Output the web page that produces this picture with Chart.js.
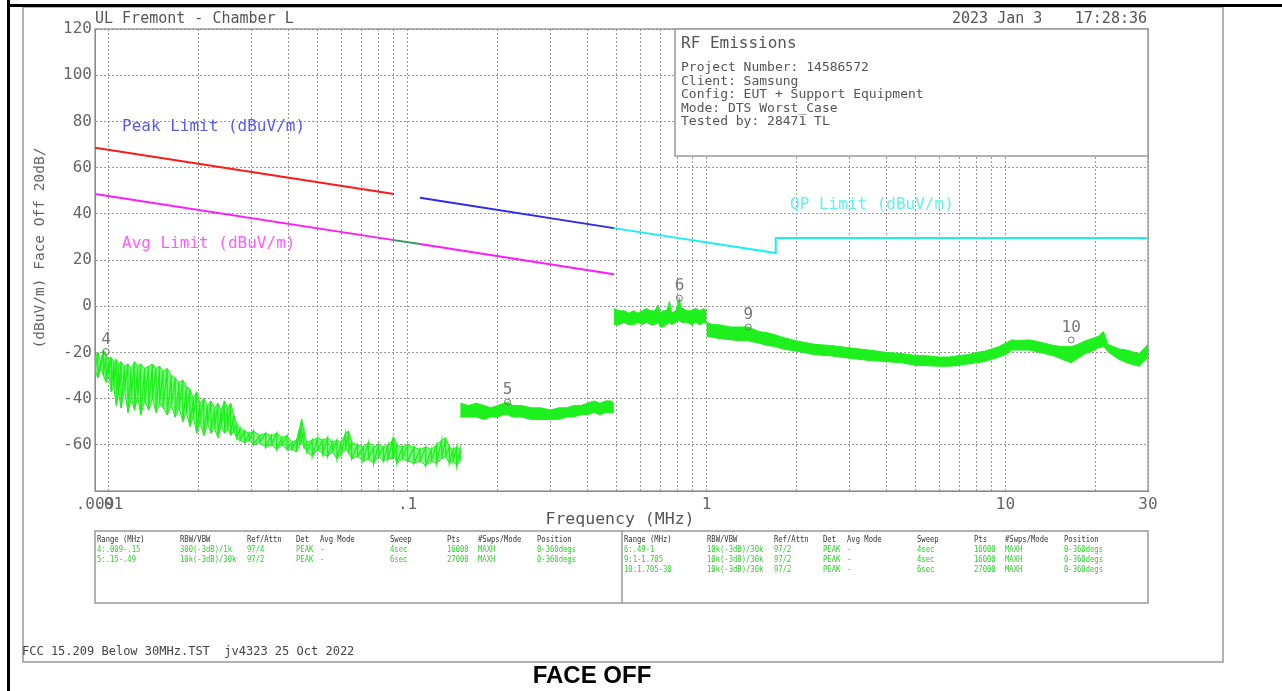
<!DOCTYPE html>
<html>
<head>
<meta charset="utf-8">
<script src="https://cdn.jsdelivr.net/npm/chart.js@4.4.1/dist/chart.umd.min.js"></script>
<style>
html, body { margin: 0; padding: 0; background: #fff; }
</style>
</head>
<body>
<canvas id="emiChart" width="1282" height="691"></canvas>
<script>
// Chart.jsのグローバルオブジェクト
let chart;

// X軸の目盛り (MHz)
const xTickVals = [0.009, 0.01, 0.02, 0.03, 0.04, 0.05, 0.06, 0.07, 0.08, 0.09,
    0.1, 0.2, 0.3, 0.4, 0.5, 0.6, 0.7, 0.8, 0.9,
    1, 2, 3, 4, 5, 6, 7, 8, 9, 10, 20, 30];
const xLabelVals = [0.009, 0.01, 0.1, 1, 10, 30];
const xLabelText = ['.009', '.01', '.1', '1', '10', '30'];

// リミット線 (MHz / dBuV/m)
const peakFreq = [0.009, 0.09];
const peakVal = [68.6, 48.6];
const peak2Freq = [0.11, 0.49];
const peak2Val = [46.9, 33.8];
const avgFreq = [0.009, 0.09];
const avgVal = [48.6, 28.6];
const avgGapFreq = [0.09, 0.11];
const avgGapVal = [28.6, 26.9];
const avg2Freq = [0.11, 0.49];
const avg2Val = [26.9, 13.8];
const qpFreq = [0.49, 1.705, 1.705, 30];
const qpVal = [33.8, 23.0, 29.5, 29.5];

// 測定トレース 4: .009-.15 (上側 / 下側)
const seg1Freq = [0.0090, 0.0092, 0.0094, 0.0096, 0.0098, 0.0100, 0.0102, 0.0104, 0.0106, 0.0108,
    0.0110, 0.0113, 0.0116, 0.0119, 0.0122, 0.0125, 0.0128, 0.0132, 0.0136, 0.0140,
    0.0144, 0.0148, 0.0152, 0.0157, 0.0162, 0.0167, 0.0172, 0.0177, 0.0182, 0.0187,
    0.0192, 0.0197, 0.0202, 0.0208, 0.0214, 0.0220, 0.0226, 0.0232, 0.0238, 0.0244,
    0.0250, 0.0256, 0.0262, 0.0268, 0.0275, 0.0285, 0.0295, 0.0305, 0.0320, 0.0335,
    0.0350, 0.0365, 0.0380, 0.0395, 0.0410, 0.0425, 0.0435, 0.0442, 0.0450, 0.0460,
    0.0480, 0.0500, 0.0520, 0.0540, 0.0560, 0.0580, 0.0600, 0.0620, 0.0635, 0.0650,
    0.0680, 0.0710, 0.0740, 0.0770, 0.0800, 0.0830, 0.0860, 0.0890, 0.0900, 0.0920,
    0.0960, 0.1000, 0.1050, 0.1100, 0.1150, 0.1200, 0.1250, 0.1300, 0.1340, 0.1380,
    0.1420, 0.1460, 0.1500];
const seg1Hi = [-22, -20, -24, -19, -21, -23, -22, -24, -23, -25,
    -24, -26, -25, -27, -24, -26, -25, -27, -26, -25,
    -27, -26, -28, -27, -30, -31, -33, -32, -35, -36,
    -40, -37, -42, -40, -43, -41, -44, -42, -45, -41,
    -44, -42, -47, -51, -53, -54, -55, -54, -56, -55,
    -56, -55, -57, -56, -59, -58, -53, -49, -54, -59,
    -58, -57, -58, -57, -59, -58, -59, -55, -54, -59,
    -60, -61, -59, -61, -60, -61, -60, -58, -57, -60,
    -61, -60, -61, -62, -61, -62, -60, -58, -57, -61,
    -62, -61, -62];
const seg1Lo = [-28, -31, -27, -30, -33, -29, -37, -35, -43, -38,
    -44, -36, -46, -40, -45, -39, -47, -41, -45, -40,
    -46, -42, -44, -47, -43, -48, -44, -50, -46, -52,
    -48, -55, -50, -56, -51, -55, -53, -57, -52, -55,
    -53, -56, -54, -57, -58, -59, -58, -60, -59, -61,
    -60, -62, -60, -62, -62, -63, -60, -58, -61, -63,
    -65, -62, -64, -65, -63, -66, -64, -62, -63, -66,
    -65, -67, -66, -68, -65, -67, -66, -66, -64, -68,
    -66, -67, -68, -67, -69, -67, -68, -66, -65, -68,
    -67, -69, -67];

// 測定トレース 5: .15-.49
const seg2Freq = [0.150, 0.160, 0.170, 0.180, 0.190, 0.200, 0.210, 0.216, 0.225, 0.240,
    0.260, 0.280, 0.300, 0.320, 0.340, 0.360, 0.380, 0.400, 0.420, 0.440,
    0.460, 0.480, 0.490];
const seg2Hi = [-42, -43, -42, -43, -44, -43, -42, -41.5, -43, -43,
    -44, -44, -45, -44, -44, -43, -43, -42, -41, -42,
    -41, -41, -42];
const seg2Lo = [-48, -48, -48, -49, -48, -48, -47, -47, -48, -48,
    -49, -49, -49, -49, -48, -48, -47, -47, -46, -47,
    -46, -46, -46];

// 測定トレース 6: .49-1
const seg3Freq = [0.490, 0.510, 0.530, 0.550, 0.570, 0.590, 0.610, 0.630, 0.650, 0.670,
    0.690, 0.700, 0.715, 0.735, 0.752, 0.765, 0.790, 0.812, 0.822, 0.835,
    0.860, 0.890, 0.920, 0.950, 0.980, 1.000];
const seg3Hi = [-1, -2, -2, -3, -2, -3, -2, -1, -2, -2,
    0.5, -3, -2, -2, 2, -3, -2, 3.5, -1, -1,
    -2, -2, -1, -2, -1, -2];
const seg3Lo = [-8, -8, -7, -8, -8, -7, -8, -7, -8, -8,
    -7, -9, -9, -8, -7, -8, -7, -6, -7, -7,
    -7, -8, -7, -8, -7, -8];

// 測定トレース 9 / 10: 1-30
const seg4Freq = [1.00, 1.05, 1.10, 1.20, 1.30, 1.38, 1.50, 1.60, 1.705, 1.80,
    2.00, 2.30, 2.60, 3.00, 3.50, 4.00, 4.50, 5.00, 5.50, 6.00,
    6.50, 7.00, 7.50, 8.00, 8.50, 9.00, 9.50, 10.0, 10.5, 11.0,
    12.0, 12.5, 13.5, 14.5, 15.5, 16.6, 17.5, 18.5, 19.5, 20.5,
    21.3, 22.0, 23.0, 24.0, 25.5, 27.0, 28.0, 29.0, 30.0];
const seg4Hi = [-7, -8, -8, -9, -9, -9, -11, -11.5, -12.5, -13.5,
    -15, -16.5, -17, -18, -19, -20, -20.5, -21.3, -21.5, -22,
    -22, -21.3, -21, -20, -19.5, -18.5, -17.5, -16, -14.6, -14.8,
    -14.6, -15, -16, -17, -17.5, -17.5, -16.5, -15, -14, -13,
    -11, -16.5, -17.5, -18.5, -19, -20, -20.5, -18.5, -16.5];
const seg4Lo = [-13, -13.5, -14, -14.5, -15, -15, -16, -17, -17.5, -18.5,
    -19.5, -21, -21.5, -22.5, -23.5, -24, -24.5, -25.6, -25.8, -26,
    -26, -25.6, -25, -24.5, -24, -23, -22, -21, -19, -19,
    -19, -19.5, -20.5, -21.5, -23, -24.5, -22.5, -20.5, -19.5, -18,
    -17.5, -19.5, -21.5, -23, -24.5, -25.5, -26, -24, -22];

// マーカー
const markerFreq = [0.0098, 0.216, 0.812, 1.38, 16.6];
const markerVal = [-19.6, -41.5, 3.5, -9.0, -14.6];
const markerLabel = ['4', '5', '6', '9', '10'];

// 情報ボックスと表のテキスト
const infoTitle = 'RF Emissions';
const infoLines = ['Project Number: 14586572', 'Client: Samsung',
    'Config: EUT + Support Equipment', 'Mode: DTS Worst_Case', 'Tested by: 28471 TL'];
const tableHead = ['Range (MHz)', 'RBW/VBW', 'Ref/Attn', 'Det', 'Avg Mode', 'Sweep', 'Pts', '#Swps/Mode', 'Position'];
const tableLeftRows = [
    ['4:.009-.15', '300(-3dB)/1k', '97/4', 'PEAK', '-', '4sec', '16000', 'MAXH', '0-360degs'],
    ['5:.15-.49', '10k(-3dB)/30k', '97/2', 'PEAK', '-', '6sec', '27000', 'MAXH', '0-360degs']
];
const tableRightRows = [
    ['6:.49-1', '10k(-3dB)/30k', '97/2', 'PEAK', '-', '4sec', '16000', 'MAXH', '0-360degs'],
    ['9:1-1.705', '10k(-3dB)/30k', '97/2', 'PEAK', '-', '4sec', '16000', 'MAXH', '0-360degs'],
    ['10:1.705-30', '10k(-3dB)/30k', '97/2', 'PEAK', '-', '6sec', '27000', 'MAXH', '0-360degs']
];

const MONO = "'DejaVu Sans Mono', monospace";
const traceColor = 'rgb(30, 240, 30)';

function pts(xs, ys) {
    return xs.map((x, i) => ({ x: x, y: ys[i] }));
}

function limitLine(xs, ys, color) {
    return { data: pts(xs, ys), borderColor: color, borderWidth: 2, pointRadius: 0, fill: false };
}

// 上下の包絡線の間を塗りつぶす
function band(xs, hi, lo, fillColor) {
    return [
        { data: pts(xs, lo), borderColor: traceColor, borderWidth: 1, pointRadius: 0, fill: false },
        { data: pts(xs, hi), borderColor: traceColor, borderWidth: 1, pointRadius: 0,
          fill: '-1', backgroundColor: fillColor || traceColor }
    ];
}

// 上下の値を交互につないだ櫛形のトレース
function comb(xs, hi, lo) {
    const d = [];
    xs.forEach((x, i) => {
        d.push({ x: x, y: hi[i] });
        d.push({ x: x, y: lo[i] });
    });
    return { data: d, borderColor: traceColor, borderWidth: 1.3, pointRadius: 0, fill: false };
}

const datasets = [
    { data: pts(markerFreq, markerVal), showLine: false, pointRadius: 3, pointStyle: 'circle',
      pointBorderColor: '#777', pointBackgroundColor: 'rgba(0,0,0,0)', pointBorderWidth: 1 },
    limitLine(peakFreq, peakVal, '#ff1a1a'),
    limitLine(peak2Freq, peak2Val, '#2b2bf0'),
    limitLine(avgFreq, avgVal, '#ff1aff'),
    limitLine(avgGapFreq, avgGapVal, '#2e9b62'),
    limitLine(avg2Freq, avg2Val, '#ff1aff'),
    limitLine(qpFreq, qpVal, '#1aeeee'),
    comb(seg1Freq, seg1Hi, seg1Lo),
    ...band(seg1Freq, seg1Hi, seg1Lo, 'rgba(30, 240, 30, 0.55)'),
    ...band(seg2Freq, seg2Hi, seg2Lo),
    ...band(seg3Freq, seg3Hi, seg3Lo),
    ...band(seg4Freq, seg4Hi, seg4Lo)
];

function txt(ctx, s, x, y, font, color, align) {
    ctx.font = font;
    ctx.fillStyle = color;
    ctx.textAlign = align || 'left';
    ctx.textBaseline = 'middle';
    ctx.fillText(s, x, y);
}

// 枠・注記・表の描画
const decor = {
    id: 'decor',
    beforeDraw(c) {
        const ctx = c.ctx;
        ctx.save();
        ctx.fillStyle = '#fff';
        ctx.fillRect(0, 0, c.width, c.height);
        ctx.strokeStyle = '#999';
        ctx.lineWidth = 1.5;
        ctx.strokeRect(23, 7, 1200, 655);
        ctx.fillStyle = '#000';
        ctx.fillRect(7, 0, 3, 691);
        ctx.fillRect(7, 4, 1275, 3);
        ctx.restore();
    },
    beforeDatasetsDraw(c) {
        const ctx = c.ctx;
        const a = c.chartArea;
        ctx.save();
        ctx.strokeStyle = '#8a8a8a';
        ctx.lineWidth = 1.2;
        ctx.strokeRect(a.left, a.top, a.right - a.left, a.bottom - a.top);
        // 情報ボックス
        ctx.fillStyle = '#fff';
        ctx.fillRect(675, a.top, a.right - 675, 127);
        ctx.strokeStyle = '#999';
        ctx.lineWidth = 1.5;
        ctx.strokeRect(675, a.top, a.right - 675, 127);
        txt(ctx, infoTitle, 681, 44, '16px ' + MONO, '#555');
        infoLines.forEach((s, i) => txt(ctx, s, 681, 68 + i * 13.5, '13px ' + MONO, '#555'));
        ctx.restore();
    },
    afterDatasetsDraw(c) {
        const ctx = c.ctx;
        ctx.save();
        txt(ctx, 'Peak Limit (dBuV/m)', 122, 127, '16px ' + MONO, '#5a5aee');
        txt(ctx, 'Avg Limit (dBuV/m)', 122, 244, '16px ' + MONO, '#ff5cff');
        txt(ctx, 'QP Limit (dBuV/m)', 790, 205, '16px ' + MONO, '#5ff2f2');
        const meta = c.getDatasetMeta(0);
        meta.data.forEach((p, i) => txt(ctx, markerLabel[i], p.x, p.y - 12, '16px ' + MONO, '#777', 'center'));
        ctx.restore();
    },
    afterDraw(c) {
        const ctx = c.ctx;
        ctx.save();
        txt(ctx, 'UL Fremont - Chamber L', 95, 19, '15px ' + MONO, '#555');
        txt(ctx, '2023 Jan 3', 952, 19, '15px ' + MONO, '#555');
        txt(ctx, '17:28:36', 1147, 19, '15px ' + MONO, '#555', 'right');
        txt(ctx, 'Frequency (MHz)', 620, 520, '16.5px ' + MONO, '#555', 'center');
        ctx.save();
        ctx.translate(40, 248);
        ctx.rotate(-Math.PI / 2);
        txt(ctx, '(dBuV/m) Face Off 20dB/', 0, 0, '14.5px ' + MONO, '#666', 'center');
        ctx.restore();

        // 下部の設定表
        ctx.strokeStyle = '#999';
        ctx.lineWidth = 1.5;
        ctx.strokeRect(95, 531, 1053, 72);
        ctx.beginPath();
        ctx.moveTo(622, 531);
        ctx.lineTo(622, 603);
        ctx.stroke();
        const colL = [97, 180, 247, 296, 320, 390, 447, 478, 537];
        const drawRow = (cells, x0, y, color) => {
            cells.forEach((s, i) => {
                ctx.save();
                ctx.translate(x0 + colL[i], y);
                ctx.scale(0.8, 1);
                txt(ctx, s, 0, 0, '9px ' + MONO, color);
                ctx.restore();
            });
        };
        drawRow(tableHead, 0, 540, '#333');
        drawRow(tableHead, 527, 540, '#333');
        tableLeftRows.forEach((r, i) => drawRow(r, 0, 550 + i * 10, '#33cc33'));
        tableRightRows.forEach((r, i) => drawRow(r, 527, 550 + i * 10, '#33cc33'));

        txt(ctx, 'FCC 15.209 Below 30MHz.TST  jv4323 25 Oct 2022', 22, 652, '12px ' + MONO, '#444');
        txt(ctx, 'FACE OFF', 592, 676, 'bold 24px "Liberation Sans", Arial, sans-serif', '#000', 'center');
        ctx.restore();
    }
};

// グラフの描画
function renderChart() {
    const ctx = document.getElementById('emiChart').getContext('2d');
    chart = new Chart(ctx, {
        type: 'line',
        data: { datasets: datasets },
        plugins: [decor],
        options: {
            responsive: false,
            animation: false,
            layout: { padding: { left: 0, right: 134, top: 29, bottom: 0 } },
            plugins: {
                legend: { display: false },
                tooltip: { enabled: false }
            },
            elements: { line: { tension: 0 } },
            scales: {
                x: {
                    type: 'logarithmic',
                    min: 0.009,
                    max: 30,
                    afterBuildTicks(s) { s.ticks = xTickVals.map(v => ({ value: v })); },
                    afterFit(s) { s.height = 200; },
                    grid: { color: '#9a9a9a', lineWidth: 1, drawTicks: false },
                    border: { display: true, color: '#8a8a8a', dash: [2, 2] },
                    ticks: {
                        autoSkip: false, maxRotation: 0, minRotation: 0, padding: 4,
                        color: '#666', font: { family: MONO, size: 16 },
                        callback(v) {
                            const i = xLabelVals.indexOf(v);
                            return i >= 0 ? xLabelText[i] : '';
                        }
                    }
                },
                y: {
                    min: -80,
                    max: 120,
                    afterFit(s) { s.width = 95; },
                    grid: { color: '#9a9a9a', lineWidth: 1, drawTicks: false },
                    border: { display: true, color: '#8a8a8a', dash: [2, 2] },
                    ticks: {
                        stepSize: 20, padding: 3,
                        color: '#666', font: { family: MONO, size: 16 },
                        callback(v) { return v === -80 ? '' : String(v); }
                    }
                }
            }
        }
    });
}

renderChart();
</script>
</body>
</html>
